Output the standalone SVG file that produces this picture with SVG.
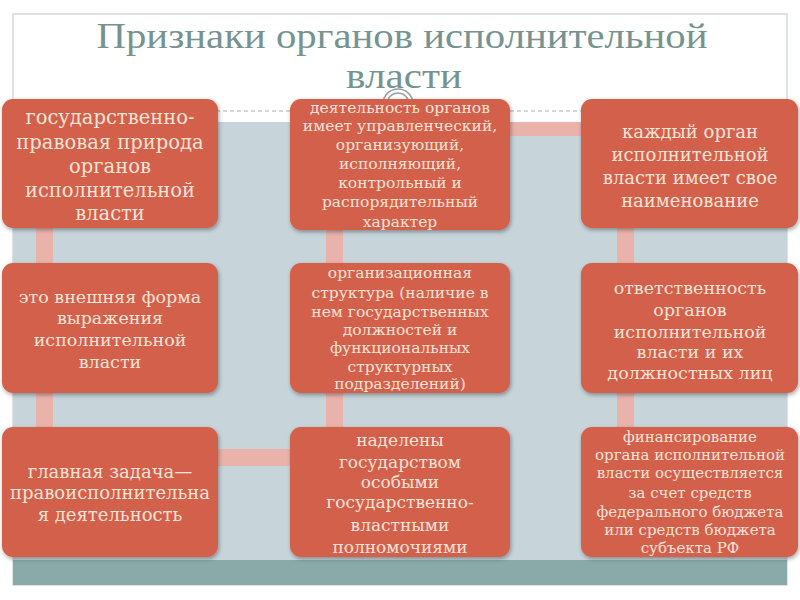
<svg xmlns="http://www.w3.org/2000/svg" width="800" height="600" viewBox="0 0 800 600">
<defs>
<filter id="sh" x="-10%" y="-10%" width="120%" height="125%">
<feDropShadow dx="1" dy="2" stdDeviation="2" flood-color="#000" flood-opacity="0.35"/>
</filter>
<style>
.box{fill:#d3614b;filter:url(#sh)}
.t{font-family:"DejaVu Serif","Liberation Serif",serif;fill:#fbe3d7;text-anchor:middle}
.bar{fill:#e9b3ab}
.title{font-family:"Liberation Serif","DejaVu Serif",serif;fill:#769390;font-size:35px;text-anchor:middle}
</style>
</defs>
<rect width="800" height="600" fill="#ffffff"/>
<rect x="13" y="14" width="774" height="571" fill="none" stroke="#c9d0d0" stroke-width="1.2"/>
<line x1="13" y1="111" x2="787" y2="111" stroke="#aab0b0" stroke-width="1" stroke-dasharray="4,3"/>
<rect x="13" y="122" width="774" height="438" fill="#c7d4d9"/>
<rect x="13" y="560" width="774" height="25" fill="#89aaa9"/>
<g id="title">
<text class="title" x="402" y="48" textLength="611" lengthAdjust="spacingAndGlyphs">Признаки органов исполнительной</text>
<text class="title" x="404" y="88" textLength="116" lengthAdjust="spacingAndGlyphs">власти</text>
</g>
<g id="ornament" fill="#ffffff" stroke="#9aa0a0" stroke-width="1.5">
<circle cx="398" cy="104" r="15"/>
<circle cx="398" cy="104" r="11"/>
</g>
<g id="connectors">
<rect class="bar" x="36" y="228" width="17" height="200"/>
<rect class="bar" x="218" y="449" width="72" height="17"/>
<rect class="bar" x="326" y="229" width="17" height="198"/>
<rect class="bar" x="510" y="122" width="71" height="14"/>
<rect class="bar" x="617" y="228" width="17" height="200"/>
</g>
<g id="n1">
<rect class="box" x="2" y="99" width="216" height="129" rx="11"/>
<text class="t" font-size="19.5"><tspan x="110" y="124">государственно-</tspan><tspan x="110" y="149">правовая природа</tspan><tspan x="110" y="173">органов</tspan><tspan x="110" y="197">исполнительной</tspan><tspan x="110" y="220">власти</tspan></text>
</g>
<g id="n2">
<rect class="box" x="290" y="99" width="220" height="131" rx="11"/>
<text class="t" font-size="15.5"><tspan x="400" y="113">деятельность органов</tspan><tspan x="400" y="131">имеет управленческий,</tspan><tspan x="400" y="150">организующий,</tspan><tspan x="400" y="169">исполняющий,</tspan><tspan x="400" y="188">контрольный и</tspan><tspan x="400" y="207">распорядительный</tspan><tspan x="400" y="227">характер</tspan></text>
</g>
<g id="n3">
<rect class="box" x="581" y="99" width="217" height="129" rx="11"/>
<text class="t" font-size="18"><tspan x="690" y="138">каждый орган</tspan><tspan x="690" y="161">исполнительной</tspan><tspan x="690" y="184">власти имеет свое</tspan><tspan x="690" y="207">наименование</tspan></text>
</g>
<g id="n4">
<rect class="box" x="2" y="263" width="216" height="130" rx="11"/>
<text class="t" font-size="17.5"><tspan x="110" y="303">это внешняя форма</tspan><tspan x="110" y="324">выражения</tspan><tspan x="110" y="346">исполнительной</tspan><tspan x="110" y="368">власти</tspan></text>
</g>
<g id="n5">
<rect class="box" x="290" y="263" width="220" height="130" rx="11"/>
<text class="t" font-size="15.5"><tspan x="400" y="278">организационная</tspan><tspan x="400" y="298">структура (наличие в</tspan><tspan x="400" y="317">нем государственных</tspan><tspan x="400" y="335">должностей и</tspan><tspan x="400" y="353">функциональных</tspan><tspan x="400" y="372">структурных</tspan><tspan x="400" y="389">подразделений)</tspan></text>
</g>
<g id="n6">
<rect class="box" x="581" y="263" width="217" height="130" rx="11"/>
<text class="t" font-size="17.5"><tspan x="690" y="294">ответственность</tspan><tspan x="690" y="316">органов</tspan><tspan x="690" y="338">исполнительной</tspan><tspan x="690" y="358">власти и их</tspan><tspan x="690" y="379">должностных лиц</tspan></text>
</g>
<g id="n7">
<rect class="box" x="2" y="427" width="216" height="130" rx="11"/>
<text class="t" font-size="18"><tspan x="110" y="478">главная задача—</tspan><tspan x="110" y="499">правоисполнительна</tspan><tspan x="110" y="521">я деятельность</tspan></text>
</g>
<g id="n8">
<rect class="box" x="290" y="427" width="220" height="130" rx="11"/>
<text class="t" font-size="17"><tspan x="400" y="446">наделены</tspan><tspan x="400" y="468">государством</tspan><tspan x="400" y="488">особыми</tspan><tspan x="400" y="508">государственно-</tspan><tspan x="400" y="531">властными</tspan><tspan x="400" y="553">полномочиями</tspan></text>
</g>
<g id="n9">
<rect class="box" x="581" y="427" width="217" height="130" rx="11"/>
<text class="t" font-size="15"><tspan x="690" y="442">финансирование</tspan><tspan x="690" y="460">органа исполнительной</tspan><tspan x="690" y="478">власти осуществляется</tspan><tspan x="690" y="498">за счет средств</tspan><tspan x="690" y="517">федерального бюджета</tspan><tspan x="690" y="535">или средств бюджета</tspan><tspan x="690" y="553">субъекта РФ</tspan></text>
</g>
</svg>
